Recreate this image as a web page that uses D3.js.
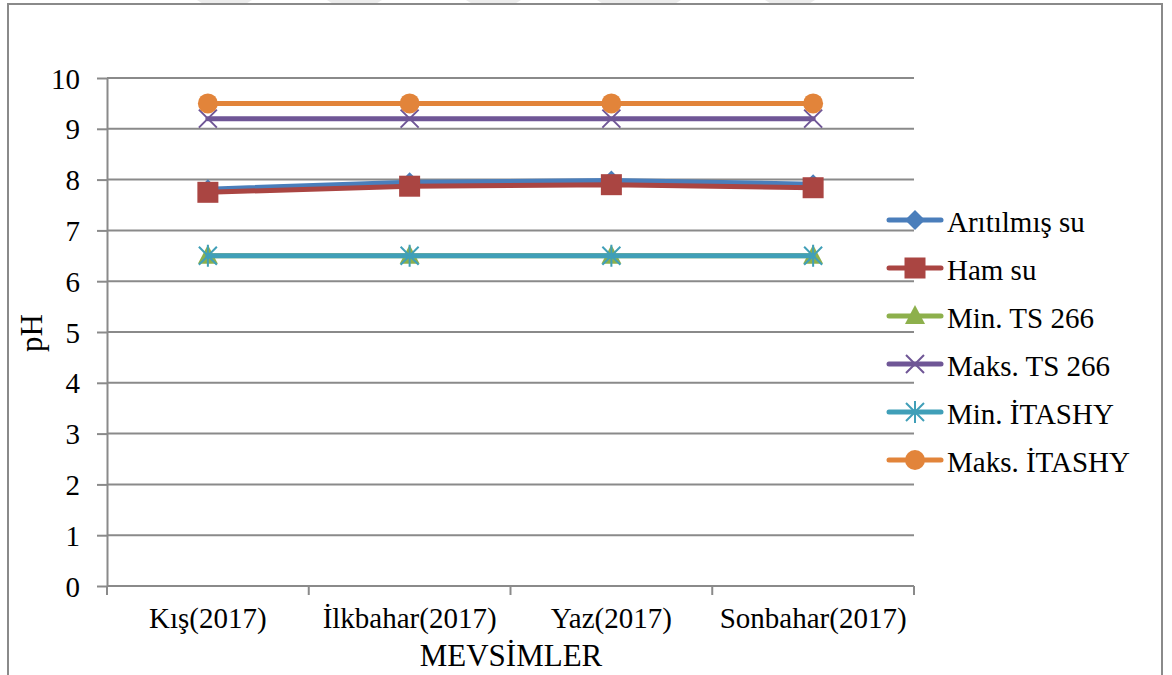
<!DOCTYPE html>
<html>
<head>
<meta charset="utf-8">
<script src="https://cdn.jsdelivr.net/npm/d3@7"></script>
<style>
  html, body { margin: 0; padding: 0; background: #fff; }
  svg { display: block; }
  svg text { font-family: "Liberation Serif", "Times New Roman", serif !important; fill: #000; font-weight: normal; }
</style>
</head>
<body>
<svg id="chart" width="1172" height="675"></svg>
<script>
// Seasons (x categories)
const seasons = ["Kış(2017)", "İlkbahar(2017)", "Yaz(2017)", "Sonbahar(2017)"];
// pH values per series
const aritilmisSu = [7.81, 7.95, 7.98, 7.91];
const hamSu = [7.75, 7.87, 7.90, 7.84];
const minTS266 = [6.5, 6.5, 6.5, 6.5];
const maksTS266 = [9.2, 9.2, 9.2, 9.2];
const minITASHY = [6.5, 6.5, 6.5, 6.5];
const maksITASHY = [9.5, 9.5, 9.5, 9.5];
const seriesNames = ["Arıtılmış su", "Ham su", "Min. TS 266", "Maks. TS 266", "Min. İTASHY", "Maks. İTASHY"];
const yTicks = [0, 1, 2, 3, 4, 5, 6, 7, 8, 9, 10];

const series = [
  { name: seriesNames[0], values: aritilmisSu, color: "#4A7EBB", marker: "diamond" },
  { name: seriesNames[1], values: hamSu, color: "#AA4542", marker: "square" },
  { name: seriesNames[2], values: minTS266, color: "#8DB04C", marker: "triangle" },
  { name: seriesNames[3], values: maksTS266, color: "#6F5696", marker: "x" },
  { name: seriesNames[4], values: minITASHY, color: "#409FB8", marker: "star" },
  { name: seriesNames[5], values: maksITASHY, color: "#E2843A", marker: "circle" }
];

const FONT = "'Liberation Serif', 'Times New Roman', serif";
const svg = d3.select("#chart").style("font-family", FONT);
const gridColor = "#8a8a8a";

// faint shapes along the top edge
const topShapes = [[197, 252], [327, 382], [466, 521], [597, 681], [765, 815]];
svg.selectAll("path.topshape").data(topShapes).enter().append("path")
  .attr("d", d => `M${d[0]},0 L${d[1]},0 L${d[1] - 8},5 L${d[0] + 8},5 Z`)
  .attr("fill", "#ececec");

// outer frame (open at the bottom)
svg.append("path")
  .attr("d", "M8,675 L8,4 L1162,4 L1162,675")
  .attr("fill", "none").attr("stroke", gridColor).attr("stroke-width", 2);

const x = d3.scalePoint().domain(seasons).range([107, 914]).padding(0.5);
const xBand = d3.scaleBand().domain(seasons).range([107, 914]);
const y = d3.scaleLinear().domain([0, 10]).range([586, 78]);

// horizontal gridlines
svg.append("g").selectAll("line").data(yTicks.filter(t => t > 0)).enter().append("line")
  .attr("x1", 107).attr("x2", 914)
  .attr("y1", d => y(d)).attr("y2", d => y(d))
  .attr("stroke", gridColor).attr("stroke-width", 2);

// y axis
const yAxis = svg.append("g").attr("transform", "translate(107,0)")
  .call(d3.axisLeft(y).tickValues(yTicks).tickSize(10).tickPadding(17).tickSizeOuter(0));
yAxis.attr("font-family", null).attr("font-size", null);
yAxis.select(".domain").attr("stroke", gridColor).attr("stroke-width", 2);
yAxis.selectAll(".tick line").attr("stroke", gridColor).attr("stroke-width", 2);
yAxis.selectAll(".tick text").style("font-family", FONT).style("font-size", "29px")
  .attr("fill", "#000").attr("dy", "0.35em");

// x axis with ticks at category boundaries
const xAxis = svg.append("g").attr("transform", `translate(0,${y(0)})`);
xAxis.append("line").attr("x1", 107).attr("x2", 914).attr("y1", 0).attr("y2", 0)
  .attr("stroke", gridColor).attr("stroke-width", 2);
const bounds = seasons.map(s => xBand(s)).concat([xBand(seasons[seasons.length - 1]) + xBand.bandwidth()]);
xAxis.selectAll("line.tk").data(bounds).enter().append("line")
  .attr("x1", d => d).attr("x2", d => d).attr("y1", 0).attr("y2", 9)
  .attr("stroke", gridColor).attr("stroke-width", 2);
xAxis.selectAll("text").data(seasons).enter().append("text")
  .attr("x", d => x(d)).attr("y", 42)
  .attr("text-anchor", "middle").style("font-size", "29px").text(d => d);

// axis titles
svg.append("text").attr("x", 511).attr("y", 666).attr("text-anchor", "middle")
  .style("font-size", "31px").text("MEVSİMLER");
svg.append("text").attr("transform", "translate(42,333) rotate(-90)")
  .attr("text-anchor", "middle").style("font-size", "31px").text("pH");

// marker drawing
function drawMarker(g, type, color) {
  if (type === "diamond") {
    g.append("path").attr("d", "M0,-10 L10,0 L0,10 L-10,0 Z").attr("fill", color);
  } else if (type === "square") {
    g.append("rect").attr("x", -10.5).attr("y", -10.5).attr("width", 21).attr("height", 21).attr("fill", color);
  } else if (type === "triangle") {
    g.append("path").attr("d", "M0,-11 L10,8 L-10,8 Z").attr("fill", color);
  } else if (type === "x") {
    g.append("path").attr("d", "M-9,-9 L9,9 M-9,9 L9,-9").attr("stroke", color).attr("stroke-width", 2).attr("fill", "none");
  } else if (type === "star") {
    g.append("path").attr("d", "M-9,-9 L9,9 M-9,9 L9,-9 M0,-11 L0,11").attr("stroke", color).attr("stroke-width", 2).attr("fill", "none");
  } else if (type === "circle") {
    g.append("ellipse").attr("rx", 10).attr("ry", 10).attr("fill", color);
  }
}

const line = d3.line().x((d, i) => x(seasons[i])).y(d => y(d));

series.forEach(s => {
  const g = svg.append("g");
  g.append("path").datum(s.values).attr("d", line)
    .attr("fill", "none").attr("stroke", s.color).attr("stroke-width", 5)
    .attr("stroke-linejoin", "round").attr("stroke-linecap", "round");
  s.values.forEach((v, i) => {
    const m = g.append("g").attr("transform", `translate(${x(seasons[i])},${y(v)})`);
    drawMarker(m, s.marker, s.color);
  });
});

// legend
const legend = svg.append("g");
series.forEach((s, i) => {
  const cy = 220 + i * 48;
  const row = legend.append("g").attr("transform", `translate(0,${cy})`);
  row.append("line").attr("x1", 889).attr("x2", 941).attr("y1", 0).attr("y2", 0)
    .attr("stroke", s.color).attr("stroke-width", 5).attr("stroke-linecap", "round");
  const m = row.append("g").attr("transform", "translate(915,0)");
  drawMarker(m, s.marker, s.color);
  row.append("text").attr("x", 947).attr("y", 12)
    .style("font-size", "29px").text(s.name);
});
</script>
</body>
</html>
